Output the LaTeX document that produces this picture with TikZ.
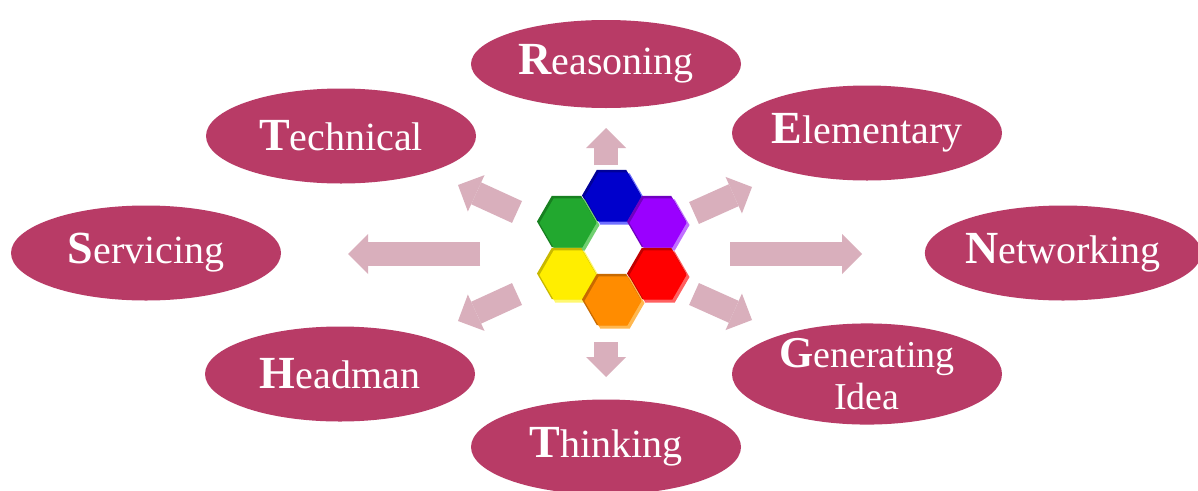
\documentclass[tikz,border=0pt]{standalone}
\usepackage{fontspec}
\setmainfont{Liberation Serif}
\usetikzlibrary{shapes.geometric,arrows.meta}
\definecolor{ell}{HTML}{B83B66}
\definecolor{arr}{HTML}{D9AFBC}
\definecolor{hblue}{HTML}{0000CC}\definecolor{hblueL}{HTML}{7070FF}\definecolor{hblueD}{HTML}{000099}
\definecolor{hgreen}{HTML}{22A82F}\definecolor{hgreenL}{HTML}{70D070}\definecolor{hgreenD}{HTML}{178020}
\definecolor{hpurp}{HTML}{9A00FF}\definecolor{hpurpL}{HTML}{C070FF}\definecolor{hpurpD}{HTML}{7000C0}
\definecolor{hyell}{HTML}{FFEE00}\definecolor{hyellL}{HTML}{FFF870}\definecolor{hyellD}{HTML}{C8B800}
\definecolor{hred}{HTML}{FF0000}\definecolor{hredL}{HTML}{FF6060}\definecolor{hredD}{HTML}{C00000}
\definecolor{horan}{HTML}{FF8C00}\definecolor{horanL}{HTML}{FFB850}\definecolor{horanD}{HTML}{C86A00}
\newcommand\lbl[2]{{\fontsize{46}{46}\selectfont\bfseries #1}{\fontsize{40}{40}\selectfont #2}}
\begin{document}
\begin{tikzpicture}[x=1pt,y=-1pt,
  oval/.style={ellipse, fill=ell, text=white, inner sep=0pt, minimum width=270pt, minimum height=95pt},
  barrow/.style={draw=arr, line width=24pt, -{Triangle[length=20pt,width=40pt,line width=0pt]}},
  hexa/.style={regular polygon, regular polygon sides=6, minimum size=59pt, inner sep=0pt, outer sep=0pt}]
\useasboundingbox (0,0) rectangle (1198,490);
\fill[white] (0,0) rectangle (1198,490);

% ovals
\node[oval, minimum height=88pt] (reas) at (606,64) {\lbl{R}{easoning}};
\node[oval] (tech) at (341,136) {\lbl{T}{echnical}};
\node[oval] (elem) at (867,133) {\lbl{E}{lementary}};
\node[oval] (serv) at (146,253) {\lbl{S}{ervicing}};
\node[oval] (netw) at (1063,253) {\lbl{N}{etworking}};
\node[oval] (head) at (340,374) {\lbl{H}{eadman}};
\node[oval, align=center, font=\fontsize{38}{42}\selectfont] (gene) at (867,374) {{\fontsize{44}{42}\selectfont\bfseries G}enerating\\Idea};
\node[oval] (thin) at (606,447) {\lbl{T}{hinking}};

% arrows
\coordinate (uT) at (606,165); \coordinate (uH) at (606,128);
\coordinate (dT) at (606,342); \coordinate (dH) at (606,377);
\coordinate (lT) at (480,254); \coordinate (lH) at (348,254);
\coordinate (rT) at (730,254); \coordinate (rH) at (862,254);
\coordinate (ulT) at (517,212); \coordinate (ulH) at (458,185);
\coordinate (llT) at (517,294); \coordinate (llH) at (458,321);
\coordinate (urT) at (694,213); \coordinate (urH) at (752,187);
\coordinate (lrT) at (694,294); \coordinate (lrH) at (752,320);
\foreach \a in {u,d,l,r,ul,ll,ur,lr}{\draw[barrow] (\a T) -- (\a H);}

% hexagons
\foreach \n/\x/\y/\c in {hb/613/197/hblue, hg/568/223/hgreen, hp/658/223/hpurp, hy/568/275/hyell, hr/658/275/hred, ho/613/301/horan}{
  \node[hexa, fill=\c L] (\n-l) at (\x+2,\y+2) {};
  \node[hexa, fill=\c D] (\n-d) at (\x-1.5,\y-1.5) {};
  \node[hexa, fill=\c, minimum size=57pt] (\n) at (\x,\y) {};
}
\end{tikzpicture}
\end{document}
